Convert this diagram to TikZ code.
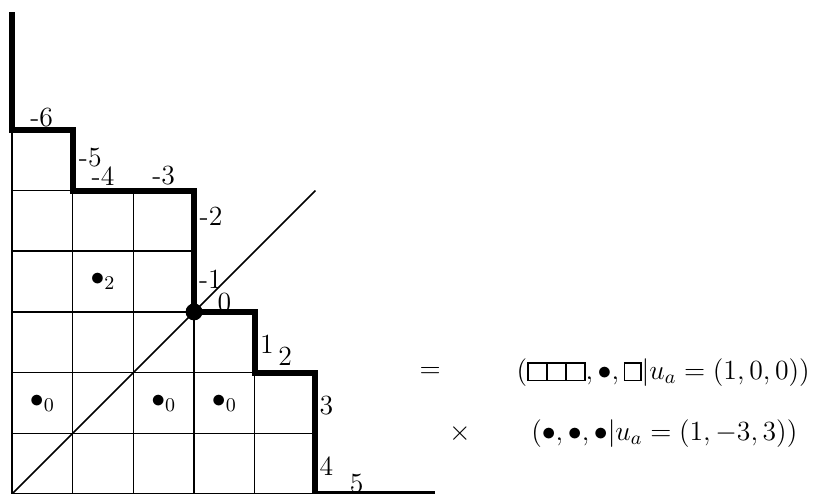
\RequirePackage{fix-cm}
\documentclass[tikz,border=0pt]{standalone}
\usepackage{amsmath}
\setlength{\fboxsep}{0pt}
\setlength{\fboxrule}{0.7pt}
\newcommand{\celdilla}[1]{\fbox{\rule{0pt}{7.4pt}\rule{#1}{0pt}}}
\newcommand{\filatres}{\celdilla{8.2pt}\kern-0.7pt\celdilla{8.2pt}\kern-0.7pt\celdilla{8.2pt}}
\begin{document}
\begin{tikzpicture}[
  font=\fontsize{13}{15.6}\selectfont,
  celda/.style={draw, line width=0.7pt},
  camino/.style={line width=2.8pt},
  diagonal/.style={line width=0.7pt},
  etiqueta/.style={inner sep=0pt}
]
  \useasboundingbox (-0.198,0) rectangle (13.48,8.14);
  % celdas del diagrama
  \foreach \r/\n in {0/5,1/5,2/4,3/3,4/3,5/1}
    \foreach \c in {1,...,\n}
      \draw[celda] (\c-1,\r) rectangle (\c,\r+1);
  % diagonal y punto central
  \coordinate (origen) at (0,0);
  \coordinate (extremo) at (5,5);
  \draw[diagonal] (origen) -- (extremo);
  \node[circle, fill, inner sep=0pt, minimum size=0.28cm] (centro) at (3,3) {};
  % borde del diagrama
  \draw[camino] (0,7.94) -- (0,6) -- (1,6) -- (1,5) -- (3,5) -- (3,3)
    -- (4,3) -- (4,2) -- (5,2) -- (5,0) -- (6.97,0);
  % contenidos
  \node[etiqueta] (m6) at (0.49,6.2)  {-6};
  \node[etiqueta] (m5) at (1.29,5.55) {-5};
  \node[etiqueta] (m4) at (1.5,5.24)  {-4};
  \node[etiqueta] (m3) at (2.5,5.24)  {-3};
  \node[etiqueta] (m2) at (3.28,4.57) {-2};
  \node[etiqueta] (m1) at (3.27,3.54) {-1};
  \node[etiqueta] (c0) at (3.5,3.16)  {0};
  \node[etiqueta] (p1) at (4.2,2.47)  {1};
  \node[etiqueta] (p2) at (4.5,2.27)  {2};
  \node[etiqueta] (p3) at (5.18,1.45) {3};
  \node[etiqueta] (p4) at (5.18,0.45) {4};
  \node[etiqueta] (p5) at (5.68,0.17) {5};
  % bolitas en las celdas
  \node (bola2) at (1.5,3.5) {$\bullet_2$};
  \node (bolaA) at (0.5,1.5) {$\bullet_0$};
  \node (bolaB) at (2.5,1.5) {$\bullet_0$};
  \node (bolaC) at (3.5,1.5) {$\bullet_0$};
  % descomposicion
  \node (igual) at (6.89,2.0) {$=$};
  \node (por)   at (7.38,1.0) {$\times$};
  \node (tupla1) at (10.73,2.0) {$(\filatres,\bullet,\celdilla{7pt}|u_a=(1,0,0))$};
  \node (tupla2) at (10.75,1.0) {$(\bullet,\bullet,\bullet|u_a=(1,-3,3))$};
\end{tikzpicture}
\end{document}
